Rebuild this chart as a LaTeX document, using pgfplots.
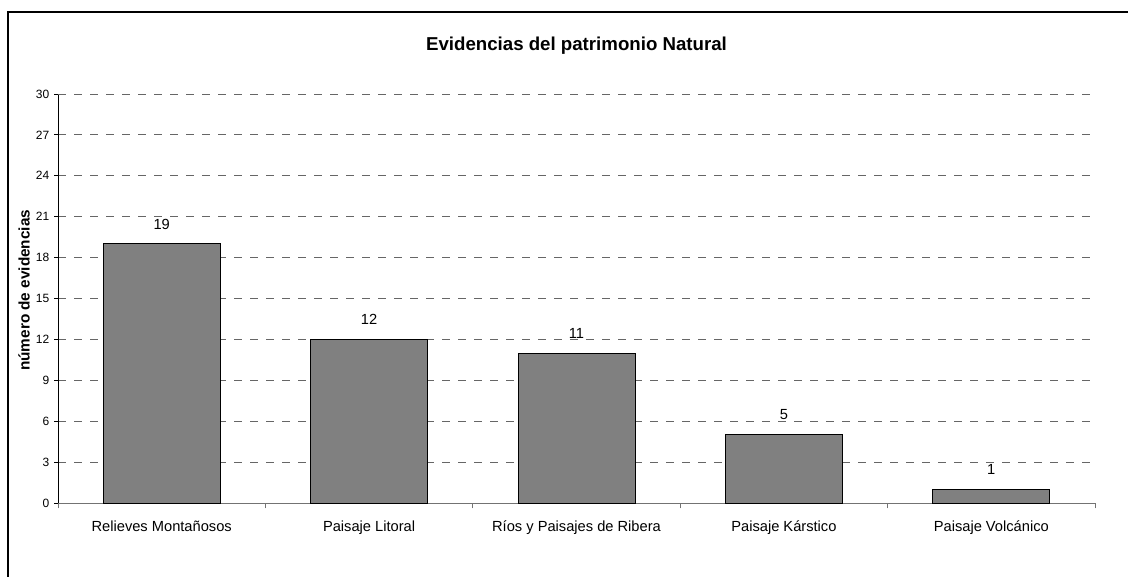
\documentclass[border=0pt]{standalone}
\usepackage{pgfplots}
\pgfplotsset{compat=1.18}
\usepackage{fontspec}
\setmainfont{Liberation Sans}
\begin{document}
\begin{tikzpicture}
\useasboundingbox (0,0) rectangle (846pt,432pt);
\draw[line width=1pt] (6pt,-10pt) -- (6pt,423pt) -- (870pt,423pt);
\begin{axis}[
  at={(43.5pt,54.75pt)}, anchor=south west,
  scale only axis, width=777.75pt, height=306.75pt,
  ybar, bar width=87.75pt,
  xmin=-0.5, xmax=4.5, ymin=0, ymax=30,
  axis x line*=bottom, axis y line*=left,
  x axis line style={black!55, line width=0.75pt, -},
  y axis line style={black, line width=0.75pt, -},
  xtick={0,1,2,3,4},
  xticklabels={Relieves Montañosos, Paisaje Litoral, Ríos y Paisajes de Ribera, Paisaje Kárstico, Paisaje Volcánico},
  major x tick style={draw=none},
  minor xtick={-0.5,0.5,1.5,2.5,3.5,4.5},
  minor x tick style={draw=black!55, line width=0.75pt},
  minor tick length=4pt,
  tick align=outside,
  ytick={0,3,...,27},
  extra y ticks={30},
  extra y tick style={grid style={black!15, line width=0.75pt, dash pattern=on 6pt off 6pt}},
  y tick style={black, line width=0.75pt},
  major tick length=3pt,
  ymajorgrids,
  major grid style={black!60, line width=0.75pt, dash pattern=on 6pt off 6pt},
  yticklabel style={font=\fontsize{9}{10}\selectfont},
  xticklabel style={font=\fontsize{11}{13}\selectfont, anchor=base, yshift=-18.5pt},
  /pgf/number format/assume math mode=true,
  title={Evidencias del patrimonio Natural},
  title style={font=\fontsize{14}{16}\selectfont\bfseries, at={(axis description cs:0.5,1)}, anchor=center, yshift=30pt},
  ylabel={número de evidencias},
  ylabel style={font=\fontsize{11.5}{13}\selectfont\bfseries, at={(axis description cs:-0.0328,0.52)}, anchor=center},
  nodes near coords,
  nodes near coords style={font=\fontsize{11}{13}\selectfont, anchor=center, yshift=15pt},
  clip=false,
]
\addplot[fill=black!50, draw=black, line width=0.75pt] coordinates {(0,19) (1,12) (2,11) (3,5) (4,1)};
\end{axis}
\end{tikzpicture}
\end{document}
